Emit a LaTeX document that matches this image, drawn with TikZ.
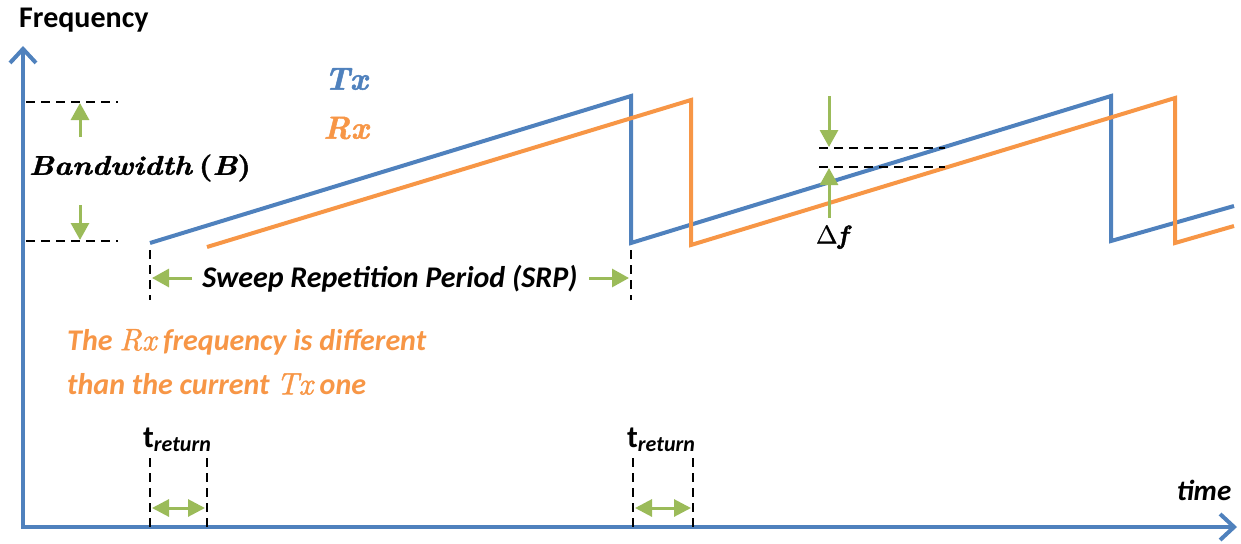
\documentclass[tikz,border=0pt]{standalone}
\usepackage[no-math]{fontspec}
\usepackage{graphicx}
\setmainfont{Carlito}
\newfontfamily\cmbi{lmroman10-bolditalic}[Extension=.otf,FakeBold=1.5]
\newfontfamily\cmb{lmroman10-bold}[Extension=.otf,FakeBold=1.5]
\newfontfamily\cmi{lmroman10-italic}[Extension=.otf,FakeBold=1.2]
\newfontfamily\cmr{lmroman10-regular}[Extension=.otf,FakeBold=0.6]
\usetikzlibrary{arrows.meta}
\definecolor{txblue}{HTML}{4F81BD}
\definecolor{rxorange}{HTML}{F79646}
\definecolor{grn}{HTML}{9BBB59}
\tikzset{
  axisline/.style={draw=txblue, line width=4pt, -{Straight Barb[length=14pt,width=26pt,line width=4pt]}},
  sweep/.style={line width=4pt, line join=miter},
  dashline/.style={draw=black, line width=2.8pt, dash pattern=on 9pt off 6pt},
  garrow/.style={draw=grn, line width=3pt, -{Triangle[length=17pt,width=18pt]}},
  gdouble/.style={draw=grn, line width=3pt, {Triangle[length=17pt,width=17pt]}-{Triangle[length=17pt,width=17pt]}},
  lbl/.style={inner sep=0pt, text=black},
}
\begin{document}
\begin{tikzpicture}[x=1pt,y=-1pt]
\useasboundingbox (0,0) rectangle (1241,543);
% axes
\coordinate (O) at (23,528);
\coordinate (ytop) at (23,46);
\coordinate (xend) at (1237,527);
\draw[axisline] (O) -- (ytop);
\draw[axisline] (21,527) -- (xend);
\node[lbl, anchor=west, font=\bfseries\fontsize{30}{32}\selectfont] (freq) at (19,20) {Frequency};
\node[lbl, font=\bfseries\itshape\fontsize{29}{30}\selectfont] (time) at (1204,490) {time};
% bandwidth
\coordinate (bwt1) at (26,102);
\coordinate (bwt2) at (118,102);
\coordinate (bwb1) at (26,241);
\coordinate (bwb2) at (118,241);
\draw[dashline] (bwt1) -- (bwt2);
\draw[dashline] (bwb1) -- (bwb2);
\coordinate (ba1) at (80,137);
\coordinate (ba1t) at (80,103);
\coordinate (ba2) at (80,205);
\coordinate (ba2t) at (80,240);
\draw[garrow] (ba1) -- (ba1t);
\draw[garrow] (ba2) -- (ba2t);
\node[lbl, font=\fontsize{27}{28}\selectfont] (bw) at (140,168) {\scalebox{1.13}[1]{{\cmbi Bandwidth} {\cmb(}{\cmbi B}{\cmb)}}};
% Tx sweep
\coordinate (t0) at (150,243);
\coordinate (t1) at (631,96);
\coordinate (t2) at (631,243);
\coordinate (t3) at (1111,96);
\coordinate (t4) at (1111,241);
\coordinate (t5) at (1234,206);
\draw[sweep, txblue] (t0) -- (t1) -- (t2) -- (t3) -- (t4) -- (t5);
% Rx sweep
\coordinate (r0) at (207,247);
\coordinate (r1) at (691,100);
\coordinate (r2) at (691,245);
\coordinate (r3) at (1175,98);
\coordinate (r4) at (1175,243);
\coordinate (r5) at (1234,226);
\draw[sweep, rxorange] (r0) -- (r1) -- (r2) -- (r3) -- (r4) -- (r5);
\node[lbl, text=txblue, font=\cmbi\fontsize{32}{32}\selectfont] (txl) at (346,79) {Tx};
\node[lbl, text=rxorange, font=\cmbi\fontsize{32}{32}\selectfont] (rxl) at (346,128) {Rx};
% SRP
\coordinate (s1a) at (150,250);
\coordinate (s1b) at (150,300);
\coordinate (s2a) at (631,250);
\coordinate (s2b) at (631,300);
\draw[dashline] (s1a) -- (s1b);
\draw[dashline] (s2a) -- (s2b);
\coordinate (sl) at (192,278);
\coordinate (slt) at (152,278);
\coordinate (sr) at (589,278);
\coordinate (srt) at (629,278);
\draw[garrow] (sl) -- (slt);
\draw[garrow] (sr) -- (srt);
\node[lbl, font=\bfseries\itshape\fontsize{30}{32}\selectfont] (srp) at (390,279) {Sweep Repetition Period (SRP)};
% orange note
\node[lbl, anchor=west, text=rxorange, font=\bfseries\itshape\fontsize{30}{32}\selectfont] (note1) at (67,342) {The {\cmi\fontsize{31}{32}\selectfont Rx} frequency is different};
\node[lbl, anchor=west, text=rxorange, font=\bfseries\itshape\fontsize{30}{32}\selectfont] (note2) at (67,384) {than the current {\cmi\fontsize{31}{32}\selectfont Tx} one};
% delta f
\coordinate (d1a) at (819,148);
\coordinate (d1b) at (945,148);
\coordinate (d2a) at (819,167);
\coordinate (d2b) at (945,167);
\draw[dashline] (d1a) -- (d1b);
\draw[dashline] (d2a) -- (d2b);
\coordinate (da1) at (829,96);
\coordinate (da1t) at (829,147);
\coordinate (da2) at (829,218);
\coordinate (da2t) at (829,168);
\draw[garrow] (da1) -- (da1t);
\draw[garrow] (da2) -- (da2t);
\node[lbl, font=\fontsize{26}{28}\selectfont] (df) at (832,237) {{\cmr Δ}{\cmbi f}};
% t_return 1
\node[lbl, anchor=base west, font=\bfseries\fontsize{31}{32}\selectfont] (tr1) at (143,447) {t\raisebox{-4pt}{\fontsize{22}{24}\selectfont\itshape return}};
\coordinate (u1a) at (150,458);
\coordinate (u1b) at (150,530);
\coordinate (u2a) at (207,458);
\coordinate (u2b) at (207,530);
\draw[dashline] (u1a) -- (u1b);
\draw[dashline] (u2a) -- (u2b);
\coordinate (ua) at (152,508);
\coordinate (ub) at (205,508);
\draw[gdouble] (ua) -- (ub);
% t_return 2
\node[lbl, anchor=base west, font=\bfseries\fontsize{31}{32}\selectfont] (tr2) at (627,447) {t\raisebox{-4pt}{\fontsize{22}{24}\selectfont\itshape return}};
\coordinate (v1a) at (633,458);
\coordinate (v1b) at (633,530);
\coordinate (v2a) at (693,458);
\coordinate (v2b) at (693,530);
\draw[dashline] (v1a) -- (v1b);
\draw[dashline] (v2a) -- (v2b);
\coordinate (va) at (635,508);
\coordinate (vb) at (691,508);
\draw[gdouble] (va) -- (vb);
\end{tikzpicture}
\end{document}
